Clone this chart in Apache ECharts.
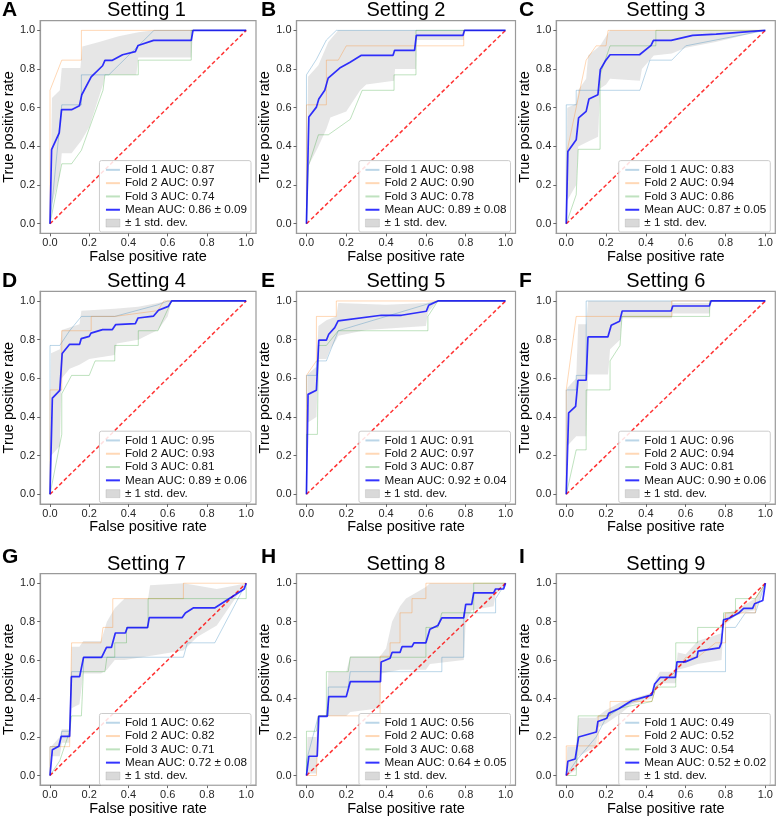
<!DOCTYPE html>
<html><head><meta charset="utf-8">
<script src="https://cdn.jsdelivr.net/npm/echarts@6/dist/echarts.min.js"></script>
<style>html,body{margin:0;padding:0;background:#fff}#c{width:778px;height:817px}</style>
</head><body><div id="c"></div>
<script>
const panelLetters = ['A','B','C','D','E','F','G','H','I'];
const panelTitles = ['Setting 1','Setting 2','Setting 3','Setting 4','Setting 5','Setting 6','Setting 7','Setting 8','Setting 9'];
const fold1AUC = ['0.87','0.98','0.83','0.95','0.91','0.96','0.62','0.56','0.49'];
const fold2AUC = ['0.97','0.90','0.94','0.93','0.97','0.94','0.82','0.68','0.52'];
const fold3AUC = ['0.74','0.78','0.86','0.81','0.87','0.81','0.71','0.68','0.54'];
const meanAUC = ['0.86','0.89','0.87','0.89','0.92','0.90','0.72','0.64','0.52'];
const stdAUC = ['0.09','0.08','0.05','0.06','0.04','0.06','0.08','0.05','0.02'];
const tickValues = [0, 0.2, 0.4, 0.6, 0.8, 1.0];
const chanceLine = [[0,0],[1,1]];

const s1_fold1 = [[0,0],[0.06,0.615],[0.16,0.615],[0.16,0.77],[0.3,0.77],[0.43,0.9],[0.53,1],[1,1]];
const s1_fold2 = [[0,0],[0,0.69],[0.06,0.846],[0.16,0.846],[0.16,1],[1,1]];
const s1_fold3 = [[0,0],[0.06,0.31],[0.11,0.31],[0.16,0.38],[0.27,0.69],[0.28,0.77],[0.45,0.77],[0.45,0.846],[0.72,0.846],[0.72,1],[1,1]];
const s1_mean = [[0,0],[0.008,0.383],[0.047,0.47],[0.059,0.59],[0.11,0.59],[0.15,0.61],[0.162,0.667],[0.21,0.76],[0.268,0.817],[0.28,0.845],[0.318,0.845],[0.37,0.874],[0.435,0.89],[0.449,0.922],[0.528,0.948],[0.72,0.948],[0.729,1],[1,1]];
const s1_upper = [[0,0],[0.01,0.65],[0.05,0.69],[0.06,0.805],[0.155,0.805],[0.165,0.917],[0.25,0.94],[0.35,0.97],[0.45,0.99],[0.53,1],[1,1]];
const s1_lower = [[0,0],[0.01,0.1],[0.05,0.25],[0.06,0.365],[0.11,0.365],[0.16,0.43],[0.2,0.5],[0.27,0.72],[0.28,0.77],[0.44,0.77],[0.45,0.86],[0.72,0.86],[0.73,1],[1,1]];

const s2_fold1 = [[0,0],[0,0.77],[0.05,0.85],[0.1,0.95],[0.15,1],[1,1]];
const s2_fold2 = [[0,0],[0,0.615],[0.1,0.615],[0.1,0.846],[0.16,0.846],[0.2,0.92],[0.79,0.92],[0.79,1],[1,1]];
const s2_fold3 = [[0,0],[0.01,0.3],[0.06,0.46],[0.11,0.46],[0.22,0.54],[0.28,0.69],[0.44,0.69],[0.44,0.77],[0.55,0.77],[0.55,1],[1,1]];
const s2_mean = [[0,0],[0.012,0.552],[0.05,0.603],[0.062,0.645],[0.092,0.69],[0.109,0.753],[0.167,0.805],[0.217,0.834],[0.276,0.871],[0.435,0.871],[0.443,0.897],[0.543,0.897],[0.552,0.974],[0.786,0.974],[0.794,1],[1,1]];
const s2_upper = [[0,0],[0.008,0.76],[0.06,0.82],[0.11,0.94],[0.16,1],[1,1]];
const s2_lower = [[0,0],[0.01,0.3],[0.06,0.4],[0.1,0.49],[0.12,0.55],[0.2,0.58],[0.27,0.69],[0.3,0.72],[0.44,0.74],[0.445,0.8],[0.55,0.8],[0.555,0.95],[0.79,0.95],[0.795,1],[1,1]];

const s3_fold1 = [[0,0],[0,0.615],[0.05,0.615],[0.05,0.69],[0.37,0.69],[0.42,0.846],[0.53,0.846],[0.6,0.92],[1,1]];
const s3_fold2 = [[0,0],[0.005,0.38],[0.1,0.846],[0.15,0.92],[0.2,0.92],[0.21,1],[1,1]];
const s3_fold3 = [[0,0],[0.05,0.15],[0.06,0.385],[0.17,0.385],[0.17,0.77],[0.22,0.92],[0.45,0.92],[0.45,1],[1,1]];
const s3_mean = [[0,0],[0.008,0.374],[0.05,0.434],[0.062,0.547],[0.1,0.581],[0.114,0.645],[0.159,0.667],[0.171,0.797],[0.197,0.843],[0.22,0.874],[0.368,0.874],[0.426,0.922],[0.438,0.948],[0.527,0.948],[0.635,0.974],[0.753,0.981],[1,1]];
const s3_upper = [[0,0],[0.005,0.6],[0.05,0.62],[0.06,0.69],[0.1,0.75],[0.11,0.87],[0.17,0.92],[0.2,0.97],[0.22,1],[1,1]];
const s3_lower = [[0,0],[0.005,0.12],[0.05,0.2],[0.06,0.4],[0.1,0.42],[0.16,0.45],[0.17,0.7],[0.2,0.72],[0.22,0.75],[0.37,0.74],[0.38,0.8],[0.44,0.87],[0.53,0.88],[0.6,0.91],[0.75,0.94],[1,1]];

const s4_fold1 = [[0,0],[0,0.77],[0.05,0.77],[0.1,0.846],[0.16,0.92],[0.33,0.92],[0.55,0.98],[0.6,1],[1,1]];
const s4_fold2 = [[0,0],[0,0.54],[0.06,0.54],[0.06,0.846],[0.21,0.846],[0.21,0.92],[0.33,0.92],[0.55,0.95],[0.58,1],[1,1]];
const s4_fold3 = [[0,0],[0.06,0.31],[0.06,0.52],[0.11,0.615],[0.2,0.615],[0.23,0.69],[0.33,0.69],[0.33,0.77],[0.45,0.77],[0.45,0.846],[0.55,0.846],[0.62,1],[1,1]];
const s4_mean = [[0,0],[0.012,0.498],[0.05,0.538],[0.062,0.728],[0.1,0.776],[0.151,0.776],[0.159,0.805],[0.2,0.817],[0.209,0.834],[0.268,0.852],[0.318,0.852],[0.335,0.878],[0.435,0.883],[0.449,0.912],[0.528,0.922],[0.553,0.952],[0.603,0.972],[0.62,1],[1,1]];
const s4_upper = [[0,0],[0.005,0.73],[0.05,0.75],[0.06,0.85],[0.15,0.88],[0.16,0.95],[0.33,0.96],[0.45,0.97],[0.55,0.99],[0.6,1],[1,1]];
const s4_lower = [[0,0],[0.005,0.2],[0.05,0.25],[0.06,0.6],[0.1,0.65],[0.15,0.67],[0.2,0.7],[0.33,0.72],[0.34,0.78],[0.45,0.8],[0.55,0.85],[0.6,0.92],[0.62,1],[1,1]];

const s5_fold1 = [[0,0],[0,0.615],[0.05,0.615],[0.05,0.69],[0.1,0.69],[0.16,0.846],[0.66,1],[1,1]];
const s5_fold2 = [[0,0],[0,0.615],[0.05,0.69],[0.05,0.92],[0.15,0.92],[0.15,1],[1,1]];
const s5_fold3 = [[0,0],[0,0.31],[0.055,0.31],[0.06,0.77],[0.1,0.77],[0.16,0.846],[0.61,0.846],[0.61,0.92],[0.66,1],[1,1]];
const s5_mean = [[0,0],[0.008,0.517],[0.05,0.538],[0.062,0.797],[0.1,0.797],[0.112,0.828],[0.142,0.862],[0.159,0.897],[0.376,0.926],[0.477,0.926],[0.602,0.947],[0.614,0.978],[0.66,1],[1,1]];
const s5_upper = [[0,0],[0.005,0.62],[0.05,0.66],[0.06,0.87],[0.1,0.9],[0.15,0.92],[0.16,0.99],[0.4,0.98],[0.6,0.99],[0.65,1],[1,1]];
const s5_lower = [[0,0],[0.005,0.37],[0.05,0.4],[0.06,0.7],[0.1,0.7],[0.12,0.75],[0.15,0.8],[0.16,0.82],[0.3,0.85],[0.6,0.87],[0.61,0.94],[0.66,1],[1,1]];

const s6_fold1 = [[0,0],[0,0.54],[0.05,0.54],[0.05,0.615],[0.1,0.615],[0.1,1],[1,1]];
const s6_fold2 = [[0,0],[0,0.54],[0.05,0.92],[0.53,0.92],[0.53,1],[1,1]];
const s6_fold3 = [[0,0],[0.05,0.23],[0.1,0.23],[0.1,0.54],[0.22,0.54],[0.22,0.69],[0.27,0.77],[0.28,0.92],[0.72,0.92],[0.72,1],[1,1]];
const s6_mean = [[0,0],[0.012,0.421],[0.047,0.455],[0.059,0.59],[0.1,0.59],[0.109,0.814],[0.209,0.814],[0.226,0.874],[0.268,0.895],[0.281,0.948],[0.527,0.948],[0.535,0.974],[0.719,0.974],[0.727,1],[1,1]];
const s6_upper = [[0,0],[0.005,0.55],[0.05,0.6],[0.06,0.88],[0.1,0.88],[0.11,1],[0.53,1],[0.535,0.99],[0.72,0.99],[0.73,1],[1,1]];
const s6_lower = [[0,0],[0.005,0.25],[0.05,0.3],[0.1,0.3],[0.11,0.62],[0.21,0.62],[0.22,0.75],[0.27,0.8],[0.28,0.91],[0.53,0.91],[0.535,0.935],[0.72,0.935],[0.73,1],[1,1]];

const s7_fold1 = [[0,0],[0,0.15],[0.05,0.15],[0.06,0.23],[0.1,0.23],[0.11,0.54],[0.17,0.54],[0.17,0.615],[0.68,0.615],[0.7,0.69],[0.84,0.69],[1,1]];
const s7_fold2 = [[0,0],[0,0.15],[0.1,0.15],[0.11,0.69],[0.26,0.69],[0.27,0.77],[0.32,0.77],[0.32,0.92],[0.68,0.92],[0.68,1],[1,1]];
const s7_fold3 = [[0,0],[0.05,0.077],[0.1,0.23],[0.11,0.31],[0.16,0.31],[0.17,0.54],[0.28,0.54],[0.29,0.615],[0.33,0.615],[0.33,0.69],[0.39,0.69],[0.39,0.77],[0.5,0.77],[0.5,0.92],[1,0.92],[1,1]];
const s7_mean = [[0,0],[0.012,0.134],[0.045,0.152],[0.057,0.203],[0.1,0.203],[0.109,0.514],[0.151,0.514],[0.171,0.614],[0.263,0.614],[0.288,0.666],[0.313,0.666],[0.333,0.741],[0.384,0.741],[0.394,0.769],[0.497,0.769],[0.506,0.821],[0.673,0.821],[0.69,0.845],[0.732,0.872],[0.841,0.872],[0.99,0.97],[1,1]];
const s7_upper = [[0,0],[0.005,0.15],[0.05,0.2],[0.06,0.24],[0.1,0.24],[0.11,0.67],[0.15,0.67],[0.17,0.7],[0.26,0.7],[0.29,0.8],[0.33,0.87],[0.38,0.92],[0.5,0.92],[0.51,0.99],[0.68,1],[0.85,0.97],[0.95,0.99],[1,1]];
const s7_lower = [[0,0],[0.005,0.1],[0.05,0.1],[0.06,0.17],[0.1,0.17],[0.11,0.35],[0.15,0.37],[0.17,0.53],[0.26,0.53],[0.29,0.55],[0.33,0.6],[0.38,0.6],[0.5,0.62],[0.68,0.65],[0.75,0.72],[0.85,0.78],[0.95,0.93],[1,1]];

const s8_fold1 = [[0,0],[0,0.077],[0.06,0.31],[0.11,0.31],[0.11,0.46],[0.21,0.46],[0.22,0.54],[0.68,0.54],[0.68,0.615],[0.79,0.615],[0.79,0.846],[0.95,0.846],[0.95,0.92],[1,1]];
const s8_fold2 = [[0,0],[0.05,0],[0.06,0.31],[0.37,0.31],[0.37,0.62],[0.42,0.62],[0.42,0.69],[0.47,0.69],[0.47,0.846],[0.53,0.846],[0.53,0.92],[0.6,0.92],[0.6,1],[1,1]];
const s8_fold3 = [[0,0],[0,0.23],[0.05,0.23],[0.06,0.31],[0.1,0.31],[0.1,0.54],[0.21,0.54],[0.22,0.615],[0.6,0.615],[0.6,0.77],[0.66,0.77],[0.68,0.846],[0.84,0.846],[0.84,1],[1,1]];
const s8_mean = [[0,0],[0.012,0.1],[0.054,0.1],[0.062,0.307],[0.104,0.307],[0.112,0.41],[0.2,0.41],[0.22,0.488],[0.372,0.488],[0.375,0.59],[0.42,0.61],[0.43,0.64],[0.47,0.64],[0.48,0.67],[0.53,0.67],[0.54,0.69],[0.6,0.69],[0.62,0.76],[0.66,0.78],[0.68,0.82],[0.79,0.82],[0.8,0.89],[0.83,0.89],[0.84,0.95],[0.94,0.95],[0.95,0.97],[0.99,0.97],[1,1]];
const s8_upper = [[0,0],[0.005,0.2],[0.05,0.2],[0.06,0.31],[0.1,0.31],[0.11,0.54],[0.2,0.54],[0.22,0.62],[0.37,0.62],[0.4,0.66],[0.43,0.8],[0.47,0.88],[0.5,0.92],[0.6,0.98],[0.62,1],[1,1]];
const s8_lower = [[0,0],[0.005,0.01],[0.05,0.01],[0.06,0.31],[0.2,0.31],[0.22,0.33],[0.37,0.35],[0.375,0.53],[0.47,0.55],[0.6,0.55],[0.62,0.58],[0.79,0.6],[0.8,0.8],[0.83,0.86],[0.94,0.88],[0.95,0.94],[1,1]];

const s9_fold1 = [[0,0],[0.05,0.077],[0.15,0.2],[0.2,0.3],[0.27,0.35],[0.33,0.38],[0.43,0.42],[0.45,0.46],[0.55,0.54],[0.8,0.54],[0.8,0.77],[0.85,0.77],[0.9,0.846],[0.95,0.846],[1,1]];
const s9_fold2 = [[0,0],[0,0.154],[0.16,0.154],[0.16,0.31],[0.22,0.31],[0.22,0.385],[0.43,0.385],[0.45,0.46],[0.55,0.54],[0.6,0.615],[0.66,0.615],[0.75,0.69],[0.8,0.69],[0.8,0.846],[0.95,0.846],[0.95,0.92],[1,1]];
const s9_fold3 = [[0,0],[0.05,0],[0.06,0.31],[0.2,0.31],[0.27,0.35],[0.43,0.385],[0.45,0.46],[0.55,0.46],[0.55,0.69],[0.66,0.69],[0.66,0.77],[0.79,0.77],[0.79,0.846],[0.85,0.846],[0.85,0.92],[0.95,0.92],[1,1]];
const s9_mean = [[0,0],[0.008,0.074],[0.045,0.086],[0.062,0.2],[0.151,0.226],[0.159,0.281],[0.204,0.298],[0.213,0.324],[0.263,0.347],[0.33,0.39],[0.43,0.419],[0.444,0.476],[0.472,0.51],[0.548,0.51],[0.556,0.591],[0.598,0.591],[0.657,0.616],[0.662,0.647],[0.769,0.664],[0.779,0.69],[0.79,0.81],[0.816,0.817],[0.866,0.845],[0.891,0.869],[0.936,0.869],[0.946,0.893],[0.987,0.91],[1,1]];
const s9_upper = [[0,0],[0.005,0.15],[0.05,0.15],[0.06,0.3],[0.15,0.3],[0.16,0.31],[0.2,0.34],[0.27,0.38],[0.43,0.43],[0.45,0.5],[0.47,0.54],[0.55,0.54],[0.56,0.64],[0.6,0.63],[0.66,0.7],[0.78,0.74],[0.79,0.84],[0.85,0.86],[0.9,0.89],[0.95,0.92],[1,1]];
const s9_lower = [[0,0],[0.005,0],[0.05,0.03],[0.06,0.1],[0.15,0.15],[0.16,0.25],[0.2,0.27],[0.27,0.32],[0.33,0.37],[0.43,0.4],[0.45,0.45],[0.47,0.48],[0.55,0.48],[0.56,0.55],[0.6,0.56],[0.66,0.58],[0.78,0.6],[0.79,0.78],[0.85,0.83],[0.9,0.85],[0.95,0.86],[1,1]];

const panels = [
  [s1_fold1,s1_fold2,s1_fold3,s1_mean,s1_upper,s1_lower],
  [s2_fold1,s2_fold2,s2_fold3,s2_mean,s2_upper,s2_lower],
  [s3_fold1,s3_fold2,s3_fold3,s3_mean,s3_upper,s3_lower],
  [s4_fold1,s4_fold2,s4_fold3,s4_mean,s4_upper,s4_lower],
  [s5_fold1,s5_fold2,s5_fold3,s5_mean,s5_upper,s5_lower],
  [s6_fold1,s6_fold2,s6_fold3,s6_mean,s6_upper,s6_lower],
  [s7_fold1,s7_fold2,s7_fold3,s7_mean,s7_upper,s7_lower],
  [s8_fold1,s8_fold2,s8_fold3,s8_mean,s8_upper,s8_lower],
  [s9_fold1,s9_fold2,s9_fold3,s9_mean,s9_upper,s9_lower]
];

const FONT = '"Liberation Sans", Arial, Helvetica, sans-serif';
const W = 778, H = 817;
const colLeft = [37, 296.5, 556.3];
const rowTop = [20.7, 291.3, 573.6];
const gw = 219, gh = 212.7;
const titleDy = [-20.5, -19.5, -19.5];
const letterDy = [-20.5, -20.3, -26.5];
const foldColors = ['rgba(31,119,180,0.3)','rgba(255,127,14,0.3)','rgba(44,160,44,0.3)'];
const meanColor = 'rgba(0,0,255,0.8)';
const bandFill = 'rgba(128,128,128,0.2)';
const stdName = '\u00b1 1 std. dev.';

const grids = [], xAxes = [], yAxes = [], series = [], legends = [], titles = [];
for (let i = 0; i < 9; i++) {
  const r = Math.floor(i / 3), c = i % 3;
  const L = colLeft[c], T = rowTop[r];
  grids.push({left: L, top: T, width: gw, height: gh, show: true, borderColor: '#9a9a9a', borderWidth: 1.2, backgroundColor: 'transparent'});
  const axisCommon = {
    gridIndex: i, type: 'value', min: -0.05, max: 1.05,
    splitLine: {show: false},
    axisLine: {show: true, onZero: false, lineStyle: {color: '#9a9a9a', width: 1.2}},
    axisTick: {show: true, length: 3, inside: false, lineStyle: {color: '#666', width: 1}, customValues: tickValues},
    axisLabel: {customValues: tickValues, formatter: v => v.toFixed(1), fontSize: 11, color: '#262626', fontFamily: FONT},
    nameLocation: 'middle',
    nameTextStyle: {fontSize: 14.5, color: '#000', fontFamily: FONT}
  };
  xAxes.push(Object.assign({}, axisCommon, {name: 'False positive rate', nameGap: 15, axisLabel: Object.assign({}, axisCommon.axisLabel, {margin: 4})}));
  yAxes.push(Object.assign({}, axisCommon, {name: 'True positive rate', nameGap: 20, axisLabel: Object.assign({}, axisCommon.axisLabel, {margin: 5})}));

  const [f1, f2, f3, mean, upper, lower] = panels[i];
  const names = ['Fold 1 AUC: ' + fold1AUC[i], 'Fold 2 AUC: ' + fold2AUC[i], 'Fold 3 AUC: ' + fold3AUC[i]];
  [f1, f2, f3].forEach((d, k) => {
    series.push({type: 'line', name: names[k], xAxisIndex: i, yAxisIndex: i, data: d, symbol: 'none', silent: true,
      lineStyle: {color: foldColors[k], width: 1}, itemStyle: {color: foldColors[k]}, animation: false});
  });
  series.push({type: 'line', name: 'chance', xAxisIndex: i, yAxisIndex: i, data: chanceLine, symbol: 'none', silent: true,
    lineStyle: {color: 'rgba(255,0,0,0.8)', width: 1.5, type: [4, 2.5]}, animation: false});
  const meanName = 'Mean AUC: ' + meanAUC[i] + ' \u00b1 ' + stdAUC[i];
  series.push({type: 'line', name: meanName, xAxisIndex: i, yAxisIndex: i, data: mean, symbol: 'none', silent: true,
    lineStyle: {color: meanColor, width: 1.7}, itemStyle: {color: meanColor}, animation: false});
  series.push({type: 'custom', name: stdName, xAxisIndex: i, yAxisIndex: i, data: [[0, 0]], silent: true, animation: false,
    itemStyle: {color: bandFill},
    renderItem: (params, api) => {
      const pts = upper.map(p => api.coord(p)).concat(lower.slice().reverse().map(p => api.coord(p)));
      return {type: 'polygon', shape: {points: pts}, style: {fill: bandFill, stroke: null}};
    }});

  legends.push({
    orient: 'vertical', right: W - (L + gw) + 5, bottom: H - (T + gh) + 1.4,
    itemWidth: 14, itemHeight: 8, itemGap: 0, selectedMode: false,
    padding: [2.6, 4, 2.3, 5.5],
    backgroundColor: 'rgba(255,255,255,0.85)', borderColor: '#cccccc', borderWidth: 1, borderRadius: 2,
    textStyle: {fontSize: 11.7, lineHeight: 13.3, color: '#111', fontFamily: FONT},
    itemStyle: {opacity: 0},
    data: [
      {name: names[0]}, {name: names[1]}, {name: names[2]}, {name: meanName},
      {name: stdName, icon: 'rect', itemStyle: {opacity: 1, color: 'rgba(128,128,128,0.3)', borderColor: 'rgba(128,128,128,0.35)', borderWidth: 0.6}}
    ]
  });

  titles.push({text: panelTitles[i], left: L + gw / 2, top: T + titleDy[r], textAlign: 'center', padding: 0,
    textStyle: {fontSize: 20, fontWeight: 'normal', color: '#000', fontFamily: FONT}});
  const letterLeft = [2, 261, 519][c];
  titles.push({text: panelLetters[i], left: letterLeft, top: T + letterDy[r], padding: 0,
    textStyle: {fontSize: 21, fontWeight: 'bold', color: '#000', fontFamily: FONT}});
}

const chart = echarts.init(document.getElementById('c'), null, {renderer: 'canvas'});
chart.setOption({
  animation: false,
  backgroundColor: '#fff',
  textStyle: {fontFamily: FONT},
  title: titles,
  grid: grids,
  xAxis: xAxes,
  yAxis: yAxes,
  legend: legends,
  series: series
});
</script></body></html>
